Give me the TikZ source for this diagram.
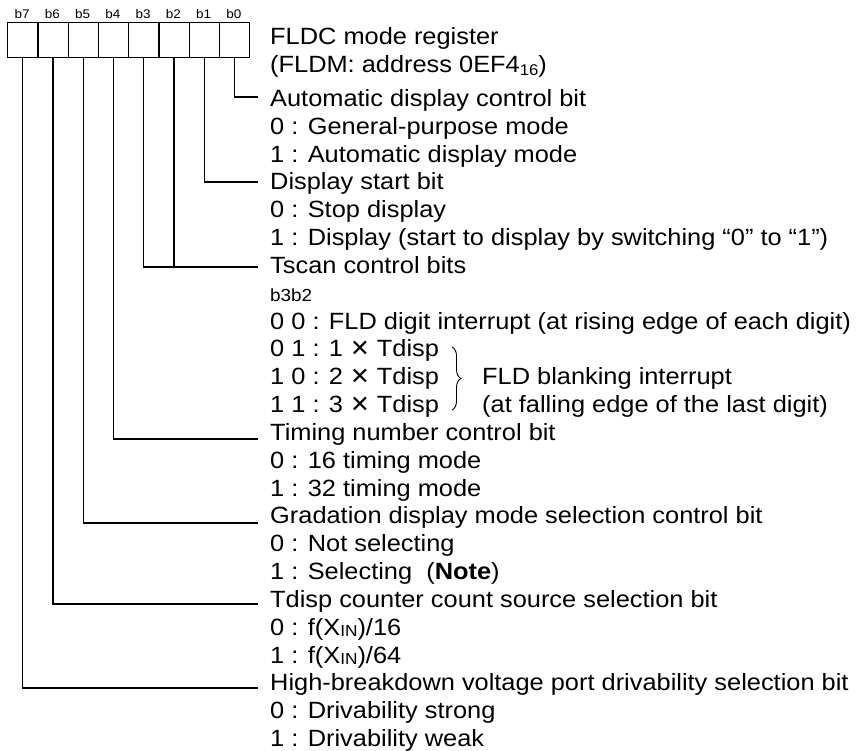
\documentclass[tikz,border=0pt]{standalone}
\usepackage{fontspec}
\setmainfont{Liberation Sans}[FakeStretch=1.08]
\newfontfamily\djv{DejaVu Sans}
\usetikzlibrary{decorations.pathreplacing}
\newcommand\mulx{{\djv ✕}}
\begin{document}
\begin{tikzpicture}[x=1pt,y=-1pt,
  txt/.style={anchor=base west, inner sep=0pt, font=\fontsize{23.5}{28}\selectfont},
  smalltxt/.style={anchor=base west, inner sep=0pt, font=\fontsize{17.5}{20}\selectfont},
  bitlbl/.style={anchor=base, inner sep=0pt, font=\fontsize{12.5}{14}\selectfont},
  reg/.style={draw, line width=1.4pt, minimum width=30.25pt, minimum height=35pt, inner sep=0pt, anchor=north west},
  conn/.style={line width=1.2pt},
  bracestyle/.style={decorate, decoration={brace, amplitude=9pt}, line width=0.9pt}]
\useasboundingbox (0,0) rectangle (856,751);
% register boxes
\foreach \i/\n in {0/7,1/6,2/5,3/4,4/3,5/2,6/1,7/0}{
  \node[reg] (r\n) at ({7+30.25*\i},22) {};
  \node[bitlbl] (l\n) at ({22.1+30.25*\i},19) {b\n};
}
% title
\node[txt] (title1) at (270,44.5) {FLDC mode register};
\node[txt] (title2) at (270,72.7) {(FLDM: address 0EF4{\fontsize{15.5}{16}\selectfont\raisebox{-2.5pt}{16}})};
% text lines
\def\bl#1{106.5+27.83*#1}
\node[txt] (t0) at (270,{\bl{0}}) {Automatic display control bit};
\node[txt] (t1) at (270,{\bl{1}}) {0 : General-purpose mode};
\node[txt] (t2) at (270,{\bl{2}}) {1 : Automatic display mode};
\node[txt] (t3) at (270,{\bl{3}}) {Display start bit};
\node[txt] (t4) at (270,{\bl{4}}) {0 : Stop display};
\node[txt] (t5) at (270,{\bl{5}}) {1 : Display (start to display by switching “0” to “1”)};
\node[txt] (t6) at (270,{\bl{6}}) {Tscan control bits};
\node[smalltxt] (t7) at (270,{\bl{7}}) {b3b2};
\node[txt] (t8) at (270,{\bl{8}}) {0 0 : FLD digit interrupt (at rising edge of each digit)};
\node[txt] (t9) at (270,{\bl{9}}) {0 1 : 1 \mulx{} Tdisp};
\node[txt] (t10) at (270,{\bl{10}}) {1 0 : 2 \mulx{} Tdisp};
\node[txt] (t11) at (270,{\bl{11}}) {1 1 : 3 \mulx{} Tdisp};
\node[txt] (t10b) at (482,{\bl{10}}) {FLD blanking interrupt};
\node[txt] (t11b) at (482,{\bl{11}}) {(at falling edge of the last digit)};
\node[txt] (t12) at (270,{\bl{12}}) {Timing number control bit};
\node[txt] (t13) at (270,{\bl{13}}) {0 : 16 timing mode};
\node[txt] (t14) at (270,{\bl{14}}) {1 : 32 timing mode};
\node[txt] (t15) at (270,{\bl{15}}) {Gradation display mode selection control bit};
\node[txt] (t16) at (270,{\bl{16}}) {0 : Not selecting};
\node[txt] (t17) at (270,{\bl{17}}) {1 : Selecting\ \ (\textbf{Note})};
\node[txt] (t18) at (270,{\bl{18}}) {Tdisp counter count source selection bit};
\node[txt] (t19) at (270,{\bl{19}}) {0 : f(X{\fontsize{16}{16}\selectfont\raisebox{-1pt}{IN}})/16};
\node[txt] (t20) at (270,{\bl{20}}) {1 : f(X{\fontsize{16}{16}\selectfont\raisebox{-1pt}{IN}})/64};
\node[txt] (t21) at (270,{\bl{21}}) {High-breakdown voltage port drivability selection bit};
\node[txt] (t22) at (270,{\bl{22}}) {0 : Drivability strong};
\node[txt] (t23) at (270,{\bl{23}}) {1 : Drivability weak};
% brace
\coordinate (bt) at (452,347);
\coordinate (bb) at (452,410);
\draw[bracestyle] (bt) -- (bb);
% connector end points
\coordinate (e0) at (258,97);
\coordinate (e1) at (258,182);
\coordinate (e2) at (258,267);
\coordinate (e4) at (258,439);
\coordinate (e5) at (258,523);
\coordinate (e6) at (258,604);
\coordinate (e7) at (258,688);
\draw[conn] (r0.south) |- (e0);
\draw[conn] (r1.south) |- (e1);
\draw[conn] (r3.south) |- (e2);
\draw[conn] (r2.south) -- (r2.south |- e2);
\draw[conn] (r4.south) |- (e4);
\draw[conn] (r5.south) |- (e5);
\draw[conn] (r6.south) |- (e6);
\draw[conn] (r7.south) |- (e7);
\end{tikzpicture}
\end{document}
